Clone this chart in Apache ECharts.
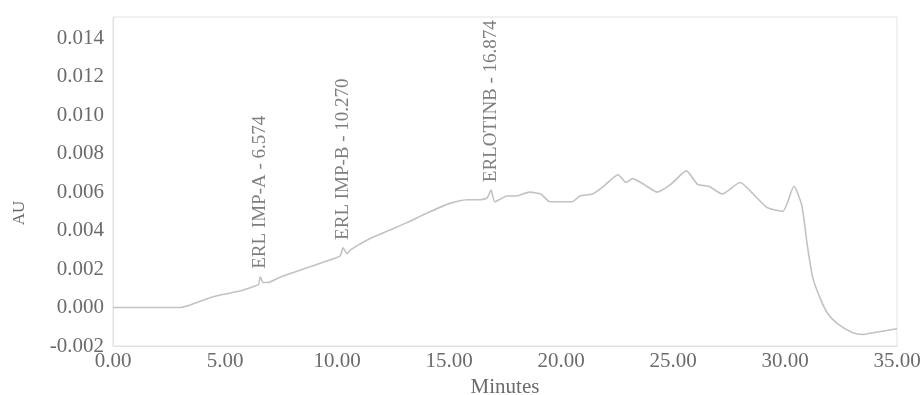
<!DOCTYPE html>
<html>
<head>
<meta charset="utf-8">
<script src="https://cdn.jsdelivr.net/npm/echarts@6/dist/echarts.min.js"></script>
<style>html,body{margin:0;padding:0;background:#fff;}#chart{width:922px;height:395px;}</style>
</head>
<body>
<div id="chart"></div>
<script>
var times = [0, 1, 2, 3.0, 4.3, 5.0, 5.8, 6.3, 6.5, 6.574, 6.7, 6.9, 7.5, 8.5, 9.5, 10.0, 10.15, 10.27, 10.45, 10.6, 11.5, 12.3, 13.1, 14.0, 15.0, 15.8, 16.4, 16.7, 16.874, 17.05, 17.6, 18.0, 18.6, 19.1, 19.5, 20.0, 20.5, 20.85, 21.4, 21.9, 22.55, 22.9, 23.2, 23.7, 24.3, 24.9, 25.6, 26.1, 26.6, 27.2, 28.0, 28.5, 29.2, 29.9, 30.4, 30.75, 31.0, 31.25, 31.6, 31.9, 32.3, 33.0, 33.5, 34.0, 35.0];
var absorbance = [0, 0, 0, 0.0000, 0.0005, 0.0007, 0.0009, 0.0011, 0.0012, 0.0016, 0.0013, 0.0013, 0.0016, 0.0020, 0.0024, 0.0026, 0.0027, 0.0031, 0.0028, 0.0030, 0.0036, 0.0040, 0.0044, 0.0049, 0.0054, 0.0056, 0.0056, 0.0057, 0.0061, 0.0055, 0.0058, 0.0058, 0.0060, 0.0059, 0.0055, 0.0055, 0.0055, 0.0058, 0.0059, 0.0063, 0.0069, 0.0065, 0.0067, 0.0064, 0.0060, 0.0064, 0.0071, 0.0064, 0.0063, 0.0059, 0.0065, 0.0060, 0.0052, 0.0050, 0.0063, 0.0053, 0.0032, 0.0015, 0.0004, -0.0003, -0.0008, -0.0013, -0.0014, -0.0013, -0.0011];
var peakNames = ["ERL IMP-A - 6.574", "ERL IMP-B - 10.270", "ERLOTINB - 16.874"];
var peakTimes = [6.574, 10.270, 16.874];
var peakValues = [0.0016, 0.0031, 0.0061];
var xTicks = [0, 5, 10, 15, 20, 25, 30, 35];
var yTicks = [-0.002, 0.000, 0.002, 0.004, 0.006, 0.008, 0.010, 0.012, 0.014];

var lineData = times.map(function (t, i) { return [t, absorbance[i]]; });
var peakData = peakTimes.map(function (t, i) { return { name: peakNames[i], value: [t, peakValues[i]] }; });

var font = "'Liberation Serif', 'Times New Roman', serif";
var txt = '#6b6b6b';
var chart = echarts.init(document.getElementById('chart'));
chart.setOption({
  animation: false,
  backgroundColor: '#ffffff',
  grid: { left: 113, right: 25, top: 17, bottom: 49, show: true, borderColor: '#e2e2e2', borderWidth: 1,
          containLabel: false, outerBoundsMode: 'none' },
  graphic: [{
    type: 'text', x: 20, y: 213, rotation: Math.PI / 2,
    style: { text: 'AU', fill: txt, font: "17px 'Liberation Serif', serif", textAlign: 'center', textVerticalAlign: 'middle' }
  }],
  xAxis: {
    type: 'value', min: xTicks[0], max: xTicks[xTicks.length - 1], interval: 5,
    name: 'Minutes', nameLocation: 'middle', nameGap: 30,
    nameTextStyle: { color: txt, fontFamily: font, fontSize: 21 },
    axisLine: { show: true, onZero: false, lineStyle: { color: '#e2e2e2' } },
    axisTick: { show: false },
    splitLine: { show: false },
    axisLabel: { color: txt, fontFamily: font, fontSize: 21, margin: 5, formatter: function (v) { return v.toFixed(2); } }
  },
  yAxis: {
    type: 'value', min: yTicks[0], max: 0.0151, interval: 0.002,
    axisLine: { show: true, lineStyle: { color: '#e2e2e2' } },
    axisTick: { show: false },
    splitLine: { show: false },
    axisLabel: { color: txt, fontFamily: font, fontSize: 21, margin: 9, showMaxLabel: false,
      formatter: function (v) { return v.toFixed(3); } }
  },
  series: [
    {
      type: 'line', data: lineData, showSymbol: false, smooth: 0.2,
      lineStyle: { color: '#c2c2c2', width: 1.6 }
    },
    {
      type: 'scatter', data: peakData, symbolSize: 0, silent: true,
      label: {
        show: true, position: 'top', distance: 8, rotate: 90, align: 'left', verticalAlign: 'middle',
        color: '#5e5e5e', fontFamily: font, fontSize: 19,
        formatter: function (p) { return p.name; }
      }
    }
  ]
});
</script>
</body>
</html>
